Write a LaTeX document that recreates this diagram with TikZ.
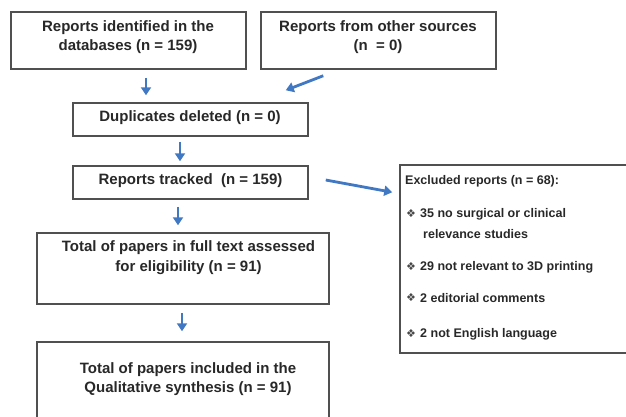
\documentclass[tikz,border=0pt]{standalone}
\usepackage{fontspec}
\setmainfont{Liberation Sans}
\newfontfamily\symfont{DejaVu Sans}
\usetikzlibrary{arrows.meta}
\definecolor{boxgray}{RGB}{80,80,80}
\definecolor{txtgray}{RGB}{40,40,40}
\definecolor{arrblue}{RGB}{64,120,196}
\begin{document}
\begin{tikzpicture}[x=1pt,y=-1pt,
  box/.style={draw=boxgray, line width=1.5pt, inner sep=0pt, fill=white},
  txt/.style={font=\bfseries\fontsize{15}{19.5}\selectfont, text=txtgray, align=center, inner sep=0pt},
  extxt/.style={font=\bfseries\fontsize{12.5}{15}\selectfont, text=txtgray, inner sep=0pt, anchor=west},
  bul/.style={font=\symfont\fontsize{11}{12}\selectfont, text=txtgray!85, inner sep=0pt},
  arr/.style={draw=arrblue, line width=2.8pt, -{Triangle[width=10pt,length=8pt]}}]
\useasboundingbox (0,0) rectangle (626,416);
\fill[white] (0,0) rectangle (626,416);
\clip (0,0) rectangle (626,416);
% boxes
\node[box, minimum width=235, minimum height=57] (b1) at (128.5,40.5) {};
\node[box, minimum width=235, minimum height=57] (b2) at (378.5,40.5) {};
\node[box, minimum width=235, minimum height=33] (b3) at (190.5,119.5) {};
\node[box, minimum width=235, minimum height=33] (b4) at (190.5,182.5) {};
\node[box, minimum width=292, minimum height=71] (b5) at (183,268.5) {};
\node[box, minimum width=292, minimum height=80] (b6) at (183,382) {};
\node[box, minimum width=240, minimum height=188] (ex) at (520,259) {};
% texts
\node[txt] (t1) at (128,37) {Reports identified in the\\databases (n = 159)};
\node[txt] (t2) at (378,37) {Reports from other sources\\(n \ = 0)};
\node[txt] (t3) at (190,118) {Duplicates deleted (n = 0)};
\node[txt] (t4) at (190.5,181) {Reports tracked \ (n = 159)};
\node[txt] (t5) at (188.5,257.5) {Total of papers in full text assessed\\for eligibility (n = 91)};
\node[txt] (t6) at (188,379) {Total of papers included in the\\Qualitative synthesis (n = 91)};
% excluded list
\node[extxt] (e0) at (405,181) {Excluded reports (n = 68):};
\node[bul] (k1) at (411,214) {❖};
\node[extxt] (e1) at (420,214) {35 no surgical or clinical};
\node[extxt] (e1b) at (423,234) {relevance studies};
\node[bul] (k2) at (411,267) {❖};
\node[extxt] (e2) at (420,267) {29 not relevant to 3D printing};
\node[bul] (k3) at (411,298) {❖};
\node[extxt] (e3) at (420,298) {2 editorial comments};
\node[bul] (k4) at (411,334) {❖};
\node[extxt] (e4) at (420,334) {2 not English language};
% arrows
\draw[arr] ([xshift=17.5,yshift=-8]b1.south) -- ([xshift=-44.5,yshift=7]b3.north);
\draw[arr] ([xshift=63,yshift=-6]b2.south west) -- ([xshift=-23,yshift=12]b3.north east);
\draw[arr] ([xshift=-10.5,yshift=-5]b3.south) -- ([xshift=-10.5,yshift=4]b4.north);
\draw[arr] ([xshift=17,yshift=2.5]b4.east) -- ([xshift=-7,yshift=-28]ex.north west);
\draw[arr] ([xshift=-12.5,yshift=-7]b4.south) -- ([xshift=-5,yshift=7]b5.north);
\draw[arr] ([xshift=-1,yshift=-8]b5.south) -- ([xshift=-1,yshift=10]b6.north);
\end{tikzpicture}
\end{document}
